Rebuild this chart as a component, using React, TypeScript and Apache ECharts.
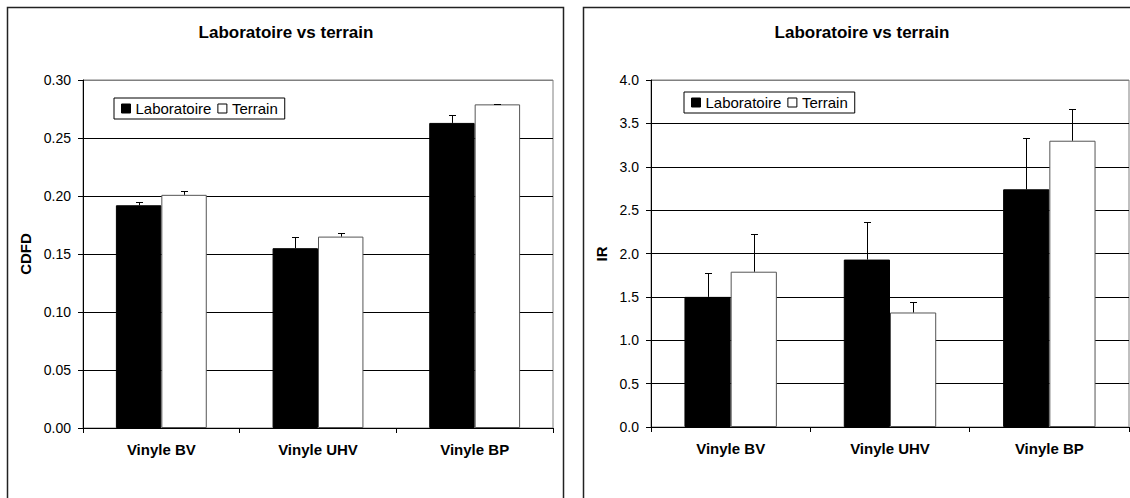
import React, { useEffect, useRef } from "react";
import * as echarts from "echarts";

const categories = ["Vinyle BV", "Vinyle UHV", "Vinyle BP"];
const seriesNames = ["Laboratoire", "Terrain"];
const cdfdLab = [0.192, 0.155, 0.263];
const cdfdLabErr = [0.003, 0.0095, 0.0065];
const cdfdTerrain = [0.201, 0.165, 0.279];
const cdfdTerrainErr = [0.003, 0.0035, 0.0007];
const irLab = [1.5, 1.93, 2.74];
const irLabErr = [0.27, 0.43, 0.59];
const irTerrain = [1.79, 1.32, 3.3];
const irTerrainErr = [0.44, 0.12, 0.36];
const chartTitle = "Laboratoire vs terrain";

const FONT = "'Liberation Sans', Arial, sans-serif";
const BAR_W = 0.29;

function errData(vals: number[], errs: number[], side: number) {
  return vals.map((v, i) => [i, v, errs[i], side]);
}

function renderErr(params: any, api: any) {
  const cat = api.value(0);
  const val = api.value(1);
  const err = api.value(2);
  const side = api.value(3);
  const base = api.coord([cat, val]);
  const top = api.coord([cat, val + err]);
  const band = api.size([1, 0])[0];
  const x = Math.round(base[0] + (side * band * BAR_W) / 2) + 0.5;
  const yt = Math.round(top[1]) + 0.5;
  const style = { stroke: "#000", lineWidth: 1 };
  return {
    type: "group",
    children: [
      { type: "line", shape: { x1: x, y1: base[1], x2: x, y2: yt }, style },
      { type: "line", shape: { x1: x - 3.5, y1: yt, x2: x + 3.5, y2: yt }, style },
    ],
  };
}

export default function App() {
  const ref = useRef<HTMLDivElement>(null);
  useEffect(() => {
    const chart = echarts.init(ref.current!, undefined, { renderer: "svg" });
    const legendBase = {
      orient: "horizontal",
      icon: "rect",
      itemWidth: 9,
      itemHeight: 9,
      itemGap: 6,
      padding: [3, 7],
      borderColor: "#000",
      borderWidth: 1,
      backgroundColor: "#fff",
      textStyle: { fontSize: 15, color: "#000", fontFamily: FONT },
      data: [
        { name: seriesNames[0], itemStyle: { color: "#000", borderColor: "#000", borderWidth: 1 } },
        { name: seriesNames[1], itemStyle: { color: "#fff", borderColor: "#000", borderWidth: 1 } },
      ],
    };
    const xAxisBase = (gi: number) => ({
      type: "category",
      gridIndex: gi,
      data: categories,
      axisLine: { lineStyle: { color: "#000", width: 1 } },
      axisTick: { show: true, length: 5, interval: 0, lineStyle: { color: "#000" } },
      axisLabel: { fontSize: 15, fontWeight: "bold", color: "#000", margin: 14, fontFamily: FONT },
    });
    const yAxisBase = (gi: number, max: number, interval: number, digits: number, n: number) => ({
      type: "value",
      gridIndex: gi,
      min: 0,
      max,
      interval,
      axisLine: { show: true, lineStyle: { color: "#000", width: 1 } },
      axisTick: { show: true, length: 5, lineStyle: { color: "#000" } },
      axisLabel: {
        fontSize: 14,
        color: "#000",
        margin: 12,
        fontFamily: FONT,
        formatter: (v: number) => v.toFixed(digits),
      },
      splitLine: {
        show: true,
        lineStyle: {
          color: Array.from({ length: n }, (_, i) => (i === n - 1 ? "#808080" : "#000")),
          width: 1,
        },
      },
    });
    const barLab = (gi: number, data: number[]) => ({
      name: seriesNames[0],
      type: "bar",
      xAxisIndex: gi,
      yAxisIndex: gi,
      data,
      barWidth: "29%",
      barGap: "0%",
      itemStyle: { color: "#000", borderColor: "#000", borderWidth: 1 },
    });
    const barTer = (gi: number, data: number[]) => ({
      name: seriesNames[1],
      type: "bar",
      xAxisIndex: gi,
      yAxisIndex: gi,
      data,
      barWidth: "29%",
      barGap: "0%",
      itemStyle: { color: "#fff", borderColor: "#555", borderWidth: 1 },
    });
    const errSeries = (gi: number, data: any[], name: string) => ({
      name,
      type: "custom",
      xAxisIndex: gi,
      yAxisIndex: gi,
      data,
      encode: { x: 0, y: 1 },
      renderItem: renderErr,
      z: 5,
      silent: true,
    });
    const textEl = (x: number, y: number, text: string, size: number, rot = 0) => ({
      type: "text",
      x,
      y,
      rotation: rot,
      style: {
        text,
        fontSize: size,
        fontWeight: "bold",
        fontFamily: FONT,
        fill: "#000",
        align: "center",
        verticalAlign: "middle",
        textAlign: "center",
        textVerticalAlign: "middle",
      },
    });
    chart.setOption({
      animation: false,
      textStyle: { fontFamily: FONT },
      grid: [
        { left: 83, top: 80, width: 470, height: 348, show: true, borderColor: "#808080", borderWidth: 1, backgroundColor: "transparent" },
        { left: 651, top: 80, width: 478, height: 347, show: true, borderColor: "#808080", borderWidth: 1, backgroundColor: "transparent" },
      ],
      legend: [
        { ...legendBase, left: 114, top: 98 },
        { ...legendBase, left: 684, top: 92 },
      ],
      xAxis: [xAxisBase(0), xAxisBase(1)],
      yAxis: [yAxisBase(0, 0.3, 0.05, 2, 7), yAxisBase(1, 4, 0.5, 1, 9)],
      series: [
        barLab(0, cdfdLab),
        barTer(0, cdfdTerrain),
        errSeries(0, errData(cdfdLab, cdfdLabErr, -1), "errLab0"),
        errSeries(0, errData(cdfdTerrain, cdfdTerrainErr, 1), "errTer0"),
        barLab(1, irLab),
        barTer(1, irTerrain),
        errSeries(1, errData(irLab, irLabErr, -1), "errLab1"),
        errSeries(1, errData(irTerrain, irTerrainErr, 1), "errTer1"),
      ],
      graphic: [
        { type: "rect", shape: { x: 7.5, y: 7.5, width: 556, height: 520 }, style: { fill: "none", stroke: "#222", lineWidth: 1.5 }, silent: true },
        { type: "rect", shape: { x: 583.5, y: 7.5, width: 600, height: 520 }, style: { fill: "none", stroke: "#222", lineWidth: 1.5 }, silent: true },
        textEl(286, 32, chartTitle, 17),
        textEl(862, 32, chartTitle, 17),
        textEl(25, 254, "CDFD", 15, Math.PI / 2),
        textEl(601, 254, "IR", 15, Math.PI / 2),
      ],
    });
    return () => chart.dispose();
  }, []);
  return <div ref={ref} style={{ position: "absolute", left: 0, top: 0, width: 1130, height: 498 }} />;
}
